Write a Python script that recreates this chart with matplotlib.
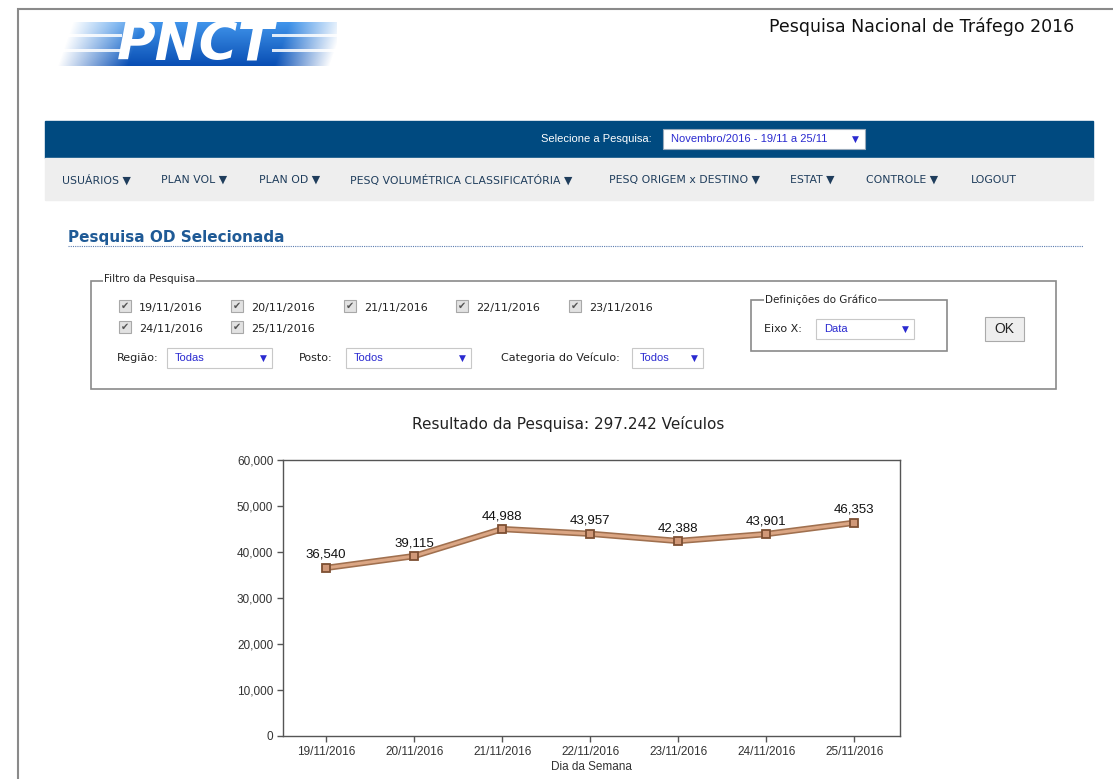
import matplotlib
matplotlib.use("Agg")
import matplotlib.pyplot as plt
import matplotlib.patheffects as pe
from matplotlib.patches import Rectangle
import numpy as np

# chart data
dates = ["19/11/2016", "20/11/2016", "21/11/2016", "22/11/2016",
         "23/11/2016", "24/11/2016", "25/11/2016"]
vehicles = [36540, 39115, 44988, 43957, 42388, 43901, 46353]
y_ticks = [0, 10000, 20000, 30000, 40000, 50000, 60000]

# page texts
menu_items = ["USUÁRIOS ▼", "PLAN VOL ▼", "PLAN OD ▼", "PESQ VOLUMÉTRICA CLASSIFICATÓRIA ▼",
              "PESQ ORIGEM x DESTINO ▼", "ESTAT ▼", "CONTROLE ▼", "LOGOUT"]
menu_x = [62, 161, 259, 350, 609, 790, 866, 971]
filter_dates_x = [139, 251, 364, 476, 589, 139, 251]
filter_dates_y = [308, 308, 308, 308, 308, 329, 329]

W, H = 1113, 779
NAVY = "#004a80"
MENU = "#1f3d5c"
LINK = "#2a2ad0"
UI = "DejaVu Sans"
CHART = "Liberation Sans"

fig = plt.figure(figsize=(W / 100, H / 100), dpi=100)
fig.patch.set_facecolor("white")

page = fig.add_axes([0, 0, 1, 1])
page.set_xlim(0, W)
page.set_ylim(H, 0)
page.axis("off")


def dropdown(x0, x1, y0, y1, label):
    page.add_patch(Rectangle((x0, y0), x1 - x0, y1 - y0, facecolor="white",
                             edgecolor="#c8c8c8", lw=0.8))
    page.text(x0 + 8, (y0 + y1) / 2, label, fontsize=8, color=LINK,
              family=CHART, va="center", ha="left")
    page.text(x1 - 9, (y0 + y1) / 2, "▼", fontsize=6.5, color=LINK,
              family=UI, va="center", ha="center")


def checkbox(x, y):
    page.add_patch(Rectangle((x, y - 6), 12, 12, facecolor="#e2e2e2",
                             edgecolor="#a8a8a8", lw=0.8))
    page.text(x + 6, y, "✔", fontsize=7, color="#555555", family=UI,
              va="center", ha="center")


# page frame
page.plot([18, 18, W], [H, 9, 9], color="#8a8a8a", lw=1.5, solid_joinstyle="miter")

# logo band: blue gradient, slanted, fading out at both ends with speed stripes
bw, bh = 280, 44
cols = np.arange(bw)[None, :]
rows = np.arange(bh)[:, None]
shift = (bh - rows) * 0.35
xx = cols - shift
alpha = np.clip(xx / 70, 0, 1) * np.clip((bw - 8 - xx) / 55, 0, 1)
alpha = np.where(xx < 0, 0, alpha)
vert = rows / bh
rgba = np.zeros((bh, bw, 4))
rgba[..., 0] = 0.25 - 0.22 * vert
rgba[..., 1] = 0.58 - 0.28 * vert
rgba[..., 2] = 0.92 - 0.22 * vert
rgba[..., 3] = alpha
for r0, r1 in [(12, 15), (27, 30)]:
    rgba[r0:r1, :65, 3] *= 0.15
    rgba[r0:r1, 215:, 3] *= 0.15
page.imshow(rgba, extent=(57, 57 + bw, 22 + bh, 22), aspect="auto", zorder=2,
            interpolation="bilinear")
page.text(196, 45, "PNCT", fontsize=38, fontweight="bold", style="italic",
          color="white", family=UI, ha="center", va="center", zorder=3)

page.text(1074, 27, "Pesquisa Nacional de Tráfego 2016", fontsize=12.5,
          color="#111111", family=UI, ha="right", va="center")

# navigation bars
page.add_patch(Rectangle((45, 121), 1048, 37, color=NAVY))
page.add_patch(Rectangle((45, 158), 1048, 42, color="#eeeeee"))
page.text(652, 139, "Selecione a Pesquisa:", fontsize=8, color="white",
          family=CHART, ha="right", va="center")
page.add_patch(Rectangle((663, 129), 202, 20, facecolor="white", edgecolor="#9ab", lw=0.8))
page.text(671, 139, "Novembro/2016 - 19/11 a 25/11", fontsize=8, color=LINK,
          family=CHART, ha="left", va="center")
page.text(855, 139, "▼", fontsize=6.5, color=LINK, family=UI, ha="center", va="center")
for label, x in zip(menu_items, menu_x):
    page.text(x, 180, label, fontsize=7.8, color=MENU, family=UI,
              ha="left", va="center")

# section title
page.text(68, 237, "Pesquisa OD Selecionada", fontsize=11, fontweight="bold",
          color="#1f5a96", family=UI, ha="left", va="center")
page.plot([68, 1083], [246, 246], ls=(0, (1, 1)), color="#5a7cb0", lw=0.8)

# filter box
page.add_patch(Rectangle((91, 281), 965, 108, fill=False, edgecolor="#8a8a8a", lw=1.2))
page.text(104, 279, "Filtro da Pesquisa", fontsize=7.5, color="#222222", family=UI,
          ha="left", va="center",
          bbox=dict(facecolor="white", edgecolor="none", pad=1))
for label, x, y in zip(dates, filter_dates_x, filter_dates_y):
    checkbox(x - 20, y - 2)
    page.text(x, y, label, fontsize=8, color="#222222", family=UI,
              ha="left", va="center")
page.text(117, 358, "Região:", fontsize=8, color="#222222", family=UI, va="center")
dropdown(167, 272, 348, 368, "Todas")
page.text(299, 358, "Posto:", fontsize=8, color="#222222", family=UI, va="center")
dropdown(346, 471, 348, 368, "Todos")
page.text(501, 358, "Categoria do Veículo:", fontsize=8, color="#222222", family=UI, va="center")
dropdown(632, 703, 348, 368, "Todos")

page.add_patch(Rectangle((751, 300), 196, 51, fill=False, edgecolor="#8a8a8a", lw=1.2))
page.text(765, 300, "Definições do Gráfico", fontsize=7.5, color="#222222", family=UI,
          ha="left", va="center",
          bbox=dict(facecolor="white", edgecolor="none", pad=1))
page.text(764, 329, "Eixo X:", fontsize=8, color="#222222", family=UI, va="center")
dropdown(816, 914, 319, 339, "Data")
page.add_patch(Rectangle((985, 317), 39, 24, facecolor="#eeeeee", edgecolor="#aaaaaa", lw=0.8))
page.text(1004.5, 329, "OK", fontsize=10, color="#222222", family=CHART,
          ha="center", va="center")

page.text(568, 424, "Resultado da Pesquisa: 297.242 Veículos", fontsize=11,
          color="#222222", family=UI, ha="center", va="center")

# chart
ax = fig.add_axes([283 / W, 43 / H, 617 / W, 276 / H])
x = np.arange(len(dates))
ax.plot(x, vehicles, color="#dba684", lw=2.2, solid_joinstyle="round",
        path_effects=[pe.Stroke(linewidth=4.5, foreground="#a0704f"), pe.Normal()])
ax.plot(x, vehicles, ls="none", marker="s", ms=5.5, mfc="#d09878",
        mec="#7d4f33", mew=1.3)
for i, v in enumerate(vehicles):
    ax.annotate(f"{v:,}", (i, v), xytext=(0, 5), textcoords="offset points",
                ha="center", va="bottom", fontsize=9.5, family=CHART, color="#111111")

ax.set_xlim(-0.49, 6.52)
ax.set_ylim(0, 60000)
ax.set_xticks(x)
ax.set_xticklabels(dates)
ax.set_yticks(y_ticks)
ax.set_yticklabels([f"{t:,}" for t in y_ticks])
ax.set_xlabel("Dia da Semana", fontsize=8.5, family=CHART, color="#333333", labelpad=2)
ax.tick_params(direction="out", length=4, width=1, color="#555555",
               labelsize=8.5, labelcolor="#333333", pad=3)
for lab in ax.get_xticklabels() + ax.get_yticklabels():
    lab.set_family(CHART)
for s in ax.spines.values():
    s.set_color("#555555")
    s.set_linewidth(1)

fig.savefig("out.png", dpi=100)
